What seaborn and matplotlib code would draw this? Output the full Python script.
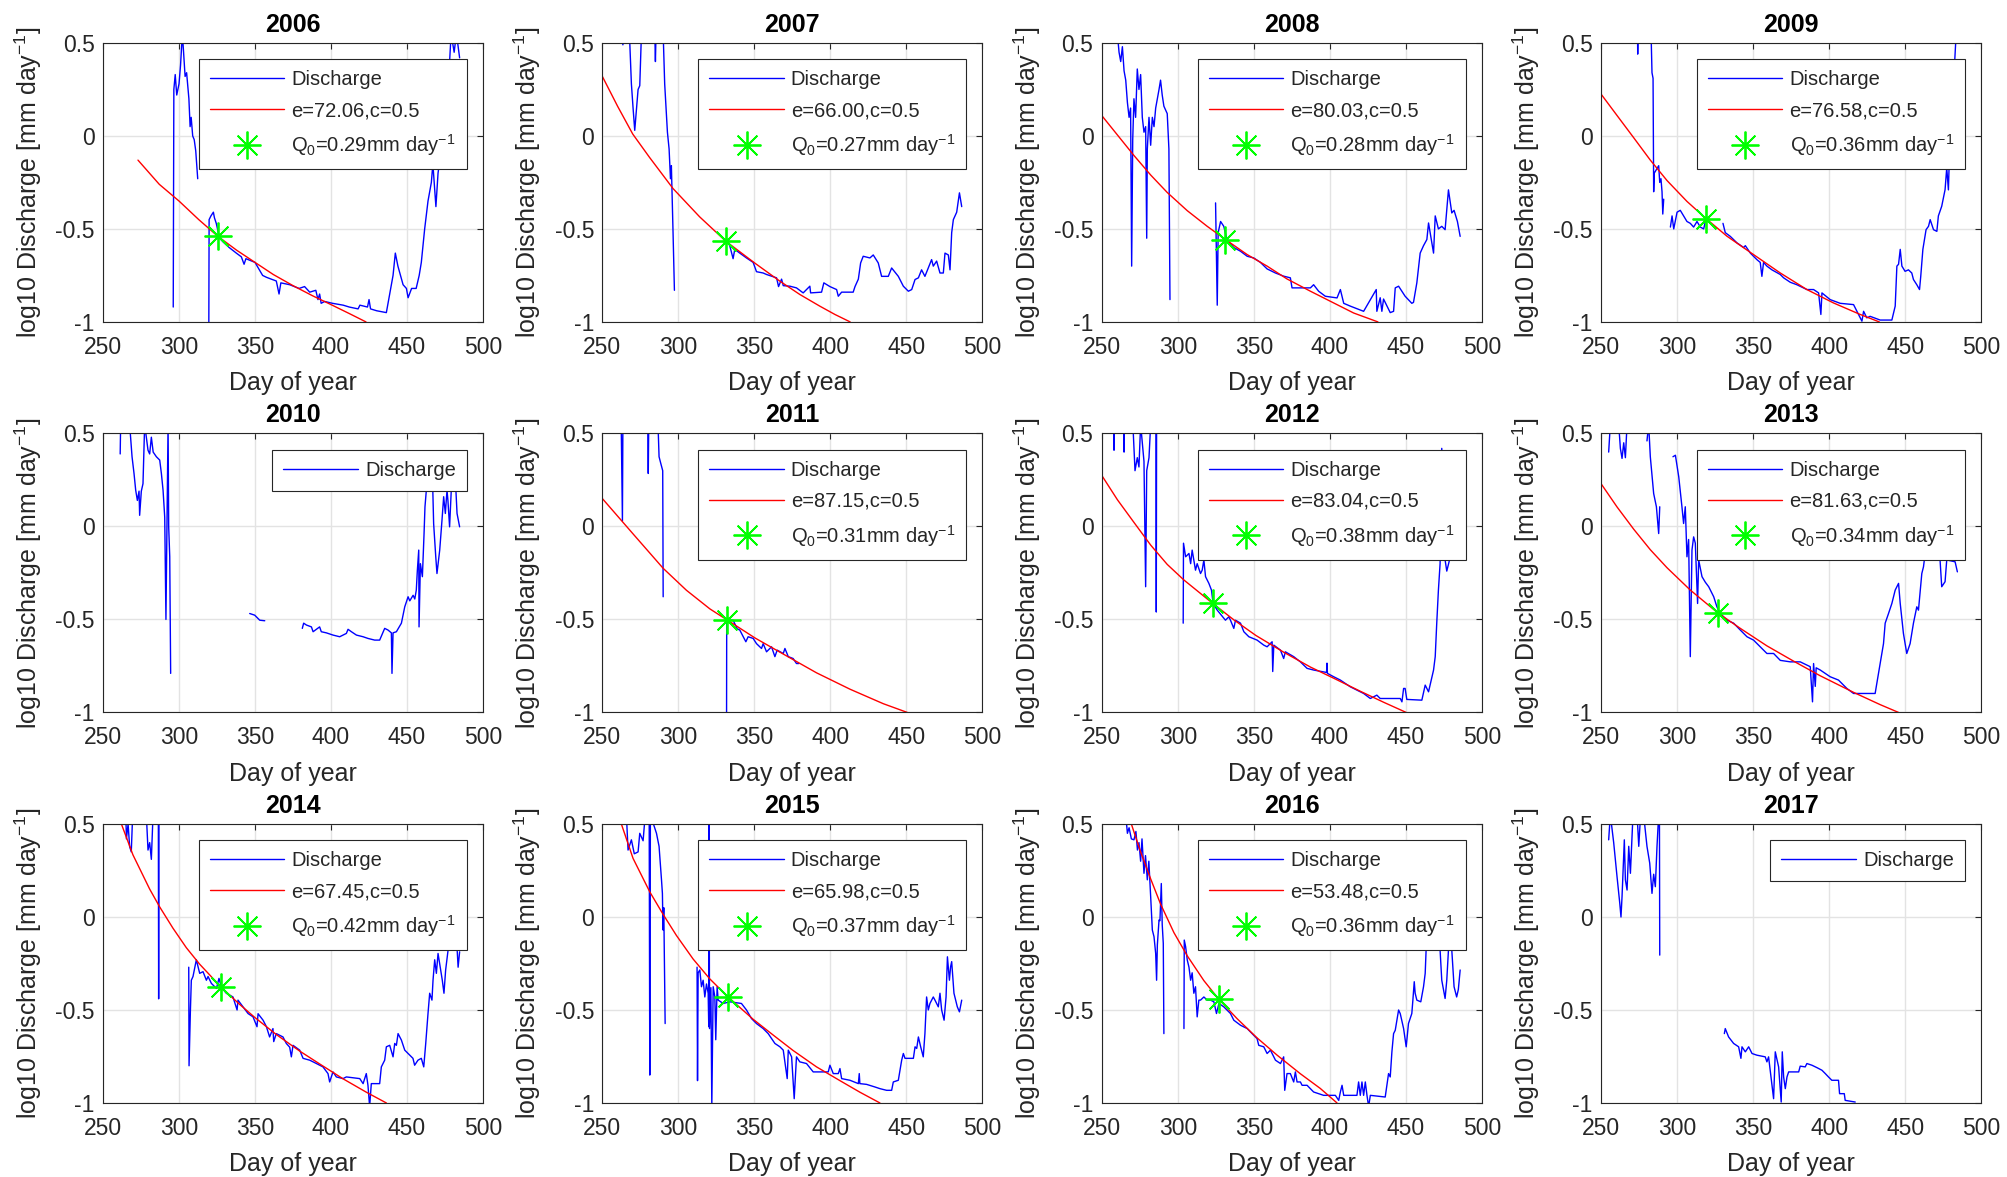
import numpy as np
import pandas as pd
import matplotlib
matplotlib.use('Agg')
import matplotlib.pyplot as plt
from matplotlib.lines import Line2D
import seaborn as sns

years = ['2006', '2007', '2008', '2009', '2010', '2011',
         '2012', '2013', '2014', '2015', '2016', '2017']

xticks = [250, 300, 350, 400, 450, 500]
yticks = [-1, -0.5, 0, 0.5]
ytick_labels = ['-1', '-0.5', '0', '0.5']

# discharge: (day of year, log10 Q); None = gap in record
dis_2006 = [(296.2, -0.92), (296.6, 0.25), (297.5, 0.33), (298.5, 0.22), (300.0, 0.28), (301.0, 0.38),
            (302.2, 0.55), (303.0, 0.45), (304.0, 0.32), (305.0, 0.34), (306.5, 0.20), (307.3, 0.05),
            (308.0, 0.10), (309.0, 0.0), (310.0, -0.02), (311.0, -0.08), (312.3, -0.23), None,
            (319.6, -1.05), (319.8, -0.45), (321.0, -0.43), (322.6, -0.41), (323.3, -0.44), (324.5, -0.47),
            (326.7, -0.55), (329.0, -0.57), (333.0, -0.60), (337.7, -0.63), (341.0, -0.65), (342.8, -0.69),
            (344.0, -0.66), (347.0, -0.67), (350.0, -0.68), (355.0, -0.75), (357.5, -0.76), (360.7, -0.77),
            (364.0, -0.78), (365.8, -0.85), (367.0, -0.79), (372.8, -0.80), (379.0, -0.82), (382.6, -0.81),
            (386.0, -0.84), (390.0, -0.83), (391.4, -0.88), (392.5, -0.85), (393.5, -0.90), (395.8, -0.89),
            (401.0, -0.90), (408.0, -0.91), (412.0, -0.92), (417.8, -0.93), (419.0, -0.91), (424.0, -0.92),
            (425.0, -0.88), (426.0, -0.93), (430.0, -0.94), (436.4, -0.95), (437.5, -0.90), (438.6, -0.85),
            (440.8, -0.75), (442.3, -0.63), (444.0, -0.70), (447.4, -0.80), (449.6, -0.82), (450.7, -0.87),
            (453.0, -0.82), (456.0, -0.82), (458.0, -0.75), (459.4, -0.68), (461.6, -0.50), (463.8, -0.35),
            (466.0, -0.25), (467.0, -0.15), (469.0, -0.38), (470.4, -0.20), (472.0, -0.10), (473.7, 0.0),
            (477.0, 0.20), (478.0, 0.40), (479.0, 0.55), (481.0, 0.45), (482.5, 0.55), (484.6, 0.42)]

dis_2007 = [(262.5, 0.55), (263.5, 0.49), (264.5, 0.55), None,
            (267.8, 0.55), (269.1, 0.28), (270.2, 0.15), (271.3, 0.03), (272.4, 0.14), (273.5, 0.25),
            (274.6, 0.27), (275.7, 0.55), (284.5, 0.55), (284.9, 0.40), (285.3, 0.55), (290.0, 0.55),
            (291.0, 0.28), (292.8, 0.02), (293.9, -0.07), (294.8, -0.23), (295.4, -0.16), (296.5, -0.52),
            (297.4, -0.83), None,
            (331.6, -0.56), (333.8, -0.59), (336.0, -0.66), (337.1, -0.61), (340.4, -0.63), (344.8, -0.656),
            (349.2, -0.68), (351.4, -0.73), (355.8, -0.737), (358.0, -0.745), (364.6, -0.763), (365.9, -0.81),
            (367.9, -0.77), (369.0, -0.805), (373.4, -0.808), (377.7, -0.817), (382.1, -0.844), (386.5, -0.808),
            (387.0, -0.844), (394.2, -0.84), (395.7, -0.79), (399.7, -0.81), (404.1, -0.826), (405.2, -0.862),
            (407.4, -0.84), (415.0, -0.84), (416.2, -0.81), (418.4, -0.77), (419.9, -0.683), (421.6, -0.647),
            (426.0, -0.656), (428.2, -0.64), (431.5, -0.683), (433.7, -0.755), (438.1, -0.755), (440.3, -0.71),
            (444.7, -0.755), (448.0, -0.808), (451.3, -0.835), (453.5, -0.826), (455.7, -0.772), (457.9, -0.763),
            (460.0, -0.72), (462.2, -0.755), (466.6, -0.665), (467.7, -0.70), (469.9, -0.673), (472.1, -0.737),
            (474.3, -0.737), (475.4, -0.63), (477.6, -0.64), (478.7, -0.72), (479.8, -0.52), (480.9, -0.45),
            (483.1, -0.41), (484.9, -0.306), (486.4, -0.38)]

dis_2008 = [(260.3, 0.55), (261.4, 0.45), (262.5, 0.40), (263.6, 0.48), (264.7, 0.35), (265.8, 0.30),
            (266.9, 0.18), (268.0, 0.10), (269.0, 0.15), (269.7, -0.70), (270.4, -0.02), (271.2, 0.20),
            (272.3, 0.10), (273.4, 0.36), (274.5, 0.25), (275.6, 0.33), (276.7, 0.10), (277.8, 0.02),
            (278.9, 0.05), (279.6, -0.55), (280.0, -0.07), (281.1, 0.10), (282.2, -0.05), (283.3, 0.10),
            (284.4, 0.05), (285.5, 0.15), (286.6, 0.20), (287.7, 0.25), (288.7, 0.30), (289.8, 0.22),
            (290.9, 0.16), (293.1, 0.12), (294.2, -0.07), (294.9, -0.88), None,
            (324.9, -0.36), (326.0, -0.91), (326.6, -0.52), (328.2, -0.46), (330.3, -0.486), (332.5, -0.56),
            (336.9, -0.60), (341.3, -0.62), (345.7, -0.647), (350.0, -0.656), (354.4, -0.68), (358.8, -0.715),
            (364.3, -0.737), (369.7, -0.754), (374.1, -0.763), (375.2, -0.817), (387.3, -0.817), (389.4, -0.80),
            (392.7, -0.835), (397.1, -0.862), (404.8, -0.871), (407.0, -0.826), (409.2, -0.90), (413.5, -0.915),
            (422.3, -0.943), (430.6, -0.826), (431.0, -0.943), (433.2, -0.87), (434.3, -0.943), (435.4, -0.877),
            (439.8, -0.95), (442.0, -0.943), (443.1, -0.817), (445.3, -0.808), (449.6, -0.862), (454.0, -0.90),
            (455.1, -0.895), (457.3, -0.79), (459.5, -0.63), (461.7, -0.59), (463.9, -0.557), (465.0, -0.468),
            (468.3, -0.63), (469.4, -0.43), (471.5, -0.50), (473.7, -0.486), (475.9, -0.504), (478.1, -0.29),
            (480.3, -0.414), (481.8, -0.40), (484.0, -0.46), (485.8, -0.54)]

dis_2009 = [(274.0, 0.55), (274.1, 0.44), (274.3, 0.55), None,
            (282.9, 0.55), (283.5, 0.34), (284.2, 0.31), (284.6, -0.30), (285.0, -0.20), (287.9, -0.16),
            (288.6, -0.25), (289.4, -0.23), (290.1, -0.30), (290.6, -0.42), (291.2, -0.34), None,
            (295.6, -0.49), (296.7, -0.43), (297.8, -0.50), (300.0, -0.41), (302.1, -0.40), (304.3, -0.43),
            (306.5, -0.46), (308.7, -0.47), (310.9, -0.49), (313.1, -0.46), (315.3, -0.49), (317.5, -0.50),
            (318.6, -0.46), (319.7, -0.45), None,
            (330.2, -0.47), (331.7, -0.52), (335.0, -0.54), (339.4, -0.575), (343.8, -0.60), (344.9, -0.59),
            (348.2, -0.63), (352.5, -0.665), (354.7, -0.68), (355.8, -0.755), (356.9, -0.68), (359.1, -0.70),
            (362.4, -0.72), (367.9, -0.745), (370.1, -0.763), (374.5, -0.787), (378.8, -0.80), (385.4, -0.826),
            (389.8, -0.826), (393.1, -0.844), (394.6, -0.96), (395.3, -0.844), (400.7, -0.88), (407.3, -0.90),
            (416.1, -0.907), (421.6, -0.996), (422.7, -0.943), (424.8, -0.978), (427.0, -0.97), (433.6, -0.99),
            (441.3, -0.99), (443.5, -0.915), (444.6, -0.70), (445.7, -0.69), (446.8, -0.61), (447.9, -0.70),
            (450.0, -0.728), (452.2, -0.72), (454.4, -0.737), (455.5, -0.772), (457.7, -0.80), (459.5, -0.826),
            (460.3, -0.755), (461.7, -0.61), (463.8, -0.504), (465.4, -0.486), (466.5, -0.45), (468.7, -0.504),
            (470.9, -0.513), (471.9, -0.43), (474.1, -0.378), (476.3, -0.289), (477.4, -0.172), (478.5, -0.29),
            (479.6, 0.016), (481.4, 0.195), (482.3, 0.35), (483.6, 0.55)]

dis_2010 = [(261.3, 0.39), (261.6, 0.55), (267.5, 0.55), (269.1, 0.375), (270.4, 0.285), (271.5, 0.195),
            (272.6, 0.14), (273.7, 0.19), (274.1, 0.06), (275.2, 0.19), (276.3, 0.23), (277.4, 0.55),
            (279.6, 0.41), (280.7, 0.39), (281.8, 0.48), (283.0, 0.40), (285.1, 0.375), (287.3, 0.357),
            (288.4, 0.285), (289.5, 0.195), (290.6, 0.05), (291.4, -0.50), (292.1, 0.025), (292.8, 0.55),
            (293.2, 0.0), (293.9, -0.163), (294.5, -0.79), None,
            (346.5, -0.468), (349.8, -0.477), (353.1, -0.504), (356.4, -0.507), None,
            (381.1, -0.548), (382.0, -0.52), (383.8, -0.53), (387.1, -0.54), (388.2, -0.566), (392.5, -0.54),
            (393.6, -0.566), (396.9, -0.572), (401.3, -0.584), (405.7, -0.593), (410.1, -0.575), (411.2, -0.553),
            (413.4, -0.566), (416.7, -0.584), (421.1, -0.593), (424.3, -0.602), (428.7, -0.611), (432.0, -0.611),
            (435.3, -0.548), (437.5, -0.557), (439.7, -0.572), (440.1, -0.79), (440.8, -0.572), (443.0, -0.566),
            (446.3, -0.52), (448.5, -0.432), (450.7, -0.378), (451.8, -0.40), (454.0, -0.37), (455.1, -0.39),
            (456.1, -0.342), (456.8, -0.235), (457.7, -0.127), (457.9, -0.54), (458.8, -0.20), (460.1, -0.27),
            (461.2, -0.038), (461.8, 0.105), (462.7, 0.195), (463.5, 0.30), (465.0, 0.33), (466.7, 0.28),
            (467.5, 0.016), (468.9, -0.163), (469.7, -0.253), (471.5, -0.127), (473.0, 0.034), (474.1, 0.16),
            (475.2, 0.07), (476.3, 0.195), (476.9, 0.14), (478.0, -0.002), (479.1, 0.195), (480.7, 0.25),
            (481.3, 0.30), (482.0, 0.22), (482.9, 0.07), (484.6, -0.002)]

dis_2011 = [(262.4, 0.55), (263.2, 0.03), (263.5, 0.55), None,
            (279.9, 0.55), (280.2, 0.285), (280.5, 0.55), None,
            (286.6, 0.55), (287.3, 0.375), (288.4, 0.34), (289.7, 0.30), (290.0, -0.378), None,
            (331.7, -1.05), (331.8, -0.504), (336.0, -0.504), (338.7, -0.55), (340.4, -0.557), (344.4, -0.62),
            (345.9, -0.593), (349.2, -0.602), (351.4, -0.63), (354.7, -0.656), (355.8, -0.63), (358.0, -0.674),
            (361.3, -0.647), (363.5, -0.70), (365.0, -0.665), (369.0, -0.683), (370.1, -0.656), (372.3, -0.70),
            (375.5, -0.71), (377.7, -0.737), (379.3, -0.737)]

dis_2012 = [(257.9, 0.55), (258.1, 0.41), (258.3, 0.55), None,
            (264.5, 0.55), (264.7, 0.40), (264.9, 0.55), None,
            (270.5, 0.55), (271.9, 0.30), (273.4, 0.37), (274.5, 0.32), (275.6, 0.55), (277.8, 0.35),
            (278.9, -0.324), (279.6, 0.30), (281.1, 0.37), (282.2, 0.55), (285.7, 0.55), (285.9, -0.46),
            (286.1, 0.55), None,
            (303.6, -0.52), (303.8, -0.09), (305.2, -0.163), (307.4, -0.145), (308.5, -0.20), (309.5, -0.127),
            (311.7, -0.235), (312.8, -0.20), (315.0, -0.253), (316.1, -0.235), (317.2, -0.18), (318.3, -0.27),
            (320.5, -0.306), (322.2, -0.342), (323.3, -0.414), (326.0, -0.45), (331.4, -0.504), (333.6, -0.486),
            (334.7, -0.504), (336.9, -0.548), (338.0, -0.504), (341.3, -0.52), (343.5, -0.566), (346.8, -0.593),
            (352.2, -0.611), (356.6, -0.638), (358.8, -0.647), (362.1, -0.62), (362.5, -0.78), (363.2, -0.638),
            (367.6, -0.665), (369.7, -0.71), (370.8, -0.674), (376.3, -0.70), (380.7, -0.728), (385.1, -0.763),
            (389.4, -0.772), (397.9, -0.785), (398.2, -0.735), (398.5, -0.79), (402.6, -0.808), (407.0, -0.826),
            (413.5, -0.862), (417.9, -0.88), (422.3, -0.898), (426.7, -0.925), (431.0, -0.907), (433.2, -0.925),
            (446.4, -0.925), (447.5, -0.943), (448.6, -0.871), (449.6, -0.871), (450.7, -0.93), (460.6, -0.934),
            (462.8, -0.853), (465.0, -0.889), (468.3, -0.772), (469.4, -0.70), (470.4, -0.52), (471.5, -0.342),
            (472.6, -0.20), (473.7, 0.42), (475.9, -0.18), (477.0, -0.24), (478.8, -0.18)]

dis_2013 = [(255.0, 0.40), (256.1, 0.55), (261.6, 0.55), (262.7, 0.42), (263.8, 0.366), (264.9, 0.45),
            (266.0, 0.37), (267.1, 0.55), None,
            (280.2, 0.46), (281.3, 0.55), (282.4, 0.375), (284.6, 0.177), (286.4, 0.106), (287.9, -0.038),
            (288.6, 0.106), None,
            (297.3, 0.375), (298.9, 0.383), (301.1, 0.267), (303.2, 0.106), (304.3, 0.016), (305.4, 0.106),
            (306.5, -0.163), (307.6, -0.07), (308.7, -0.70), (309.8, -0.127), (310.9, -0.056), (312.0, -0.09),
            (313.5, -0.414), (314.2, -0.18), (316.4, -0.27), (318.6, -0.30), (320.8, -0.324), (324.1, -0.378),
            (326.2, -0.432), (328.4, -0.468), (332.8, -0.504), (337.2, -0.52), (341.6, -0.557), (346.0, -0.593),
            (350.3, -0.611), (354.7, -0.647), (359.1, -0.683), (363.5, -0.683), (367.9, -0.72), (374.5, -0.728),
            (381.0, -0.728), (387.6, -0.754), (389.1, -0.943), (389.8, -0.737), (390.9, -0.86), (391.5, -0.76),
            (394.2, -0.772), (400.7, -0.808), (406.2, -0.826), (408.4, -0.844), (411.7, -0.871), (416.1, -0.898),
            (430.3, -0.898), (431.4, -0.844), (433.6, -0.737), (435.8, -0.63), (436.9, -0.52), (439.1, -0.468),
            (441.3, -0.414), (443.5, -0.342), (445.7, -0.306), (446.8, -0.414), (448.9, -0.575), (451.1, -0.683),
            (453.3, -0.63), (455.5, -0.52), (457.7, -0.432), (458.8, -0.45), (461.0, -0.253), (462.1, -0.217),
            (463.2, -0.145), (466.0, 0.0), (470.0, -0.05), (473.0, -0.18), (474.1, -0.324), (476.3, -0.297),
            (477.4, -0.18), (482.9, -0.19), (484.4, -0.244)]

dis_2014 = [(265.0, 0.55), (265.4, 0.42), (266.5, 0.50), (267.5, 0.38), (268.6, 0.35), (269.5, 0.55), None,
            (278.5, 0.55), (279.6, 0.36), (280.7, 0.40), (281.8, 0.31), (282.9, 0.55), None,
            (286.4, 0.55), (286.6, -0.44), (286.8, 0.55), None,
            (306.4, -0.27), (306.6, -0.80), (307.5, -0.50), (308.1, -0.34), (309.2, -0.32), (311.4, -0.23),
            (313.6, -0.303), (315.8, -0.294), (318.0, -0.34), (319.1, -0.32), (321.3, -0.357), (324.6, -0.384),
            (326.3, -0.33), (328.0, -0.38), (331.1, -0.41), (335.5, -0.43), (338.2, -0.50), (338.8, -0.447),
            (342.1, -0.483), (345.4, -0.519), (348.7, -0.537), (351.3, -0.59), (352.0, -0.52), (355.3, -0.555),
            (357.5, -0.59), (359.6, -0.645), (361.8, -0.60), (362.3, -0.67), (364.0, -0.627), (368.4, -0.645),
            (370.6, -0.68), (372.8, -0.70), (373.9, -0.752), (375.0, -0.69), (379.4, -0.716), (381.6, -0.76),
            (386.0, -0.77), (390.4, -0.788), (394.7, -0.806), (398.0, -0.842), (399.1, -0.887), (401.3, -0.833),
            (403.5, -0.86), (407.9, -0.869), (410.1, -0.86), (418.9, -0.869), (421.1, -0.896), (423.2, -0.842),
            (424.3, -0.905), (425.4, -1.02), (426.5, -0.896), (432.0, -0.896), (433.1, -0.806), (435.3, -0.77),
            (436.4, -0.698), (438.6, -0.69), (440.8, -0.752), (441.9, -0.68), (443.0, -0.69), (444.1, -0.627),
            (446.3, -0.662), (448.5, -0.716), (450.7, -0.734), (453.9, -0.76), (455.0, -0.797), (457.2, -0.77),
            (459.4, -0.76), (461.0, -0.806), (462.3, -0.68), (463.8, -0.519), (464.9, -0.41), (466.4, -0.447),
            (467.1, -0.34), (468.2, -0.23), (469.3, -0.303), (470.4, -0.196), (473.2, -0.34), (474.3, -0.41),
            (475.4, -0.285), (477.0, -0.178), (480.0, -0.10), (483.0, -0.18), (483.6, -0.27), (484.6, -0.187)]

dis_2015 = [(265.8, 0.55), (266.9, 0.36), (269.1, 0.415), (271.0, 0.34), (273.5, 0.35), (274.6, 0.45),
            (276.8, 0.41), (277.9, 0.52), (279.0, 0.55), (280.8, 0.55), (281.2, -0.85), (281.6, 0.55),
            (285.6, 0.45), (287.3, 0.38), (288.9, 0.20), (289.5, 0.127), (289.9, -0.07), (290.4, 0.05),
            (291.3, -0.573), None,
            (312.3, -0.27), (312.6, -0.88), (313.0, -0.30), (314.1, -0.285), (315.2, -0.375), (316.3, -0.34),
            (317.4, -0.43), (318.5, -0.36), (319.6, -0.41), (320.0, -0.59), (320.2, 0.55), (320.5, -0.60),
            (321.4, -0.38), (322.0, -1.02), (322.9, -0.375), (324.0, -0.43), (324.6, -0.66), (325.5, -0.375),
            (326.2, -0.447), (329.5, -0.465), (333.8, -0.456), (341.5, -0.465), (344.8, -0.50), (348.1, -0.546),
            (351.4, -0.573), (355.8, -0.60), (359.1, -0.627), (363.5, -0.68), (366.8, -0.698), (369.0, -0.716),
            (371.6, -0.869), (372.3, -0.716), (374.5, -0.752), (376.2, -0.977), (377.7, -0.752), (379.9, -0.779),
            (384.3, -0.788), (388.7, -0.833), (398.6, -0.833), (399.7, -0.797), (401.9, -0.842), (405.2, -0.842),
            (406.3, -0.815), (407.4, -0.869), (412.9, -0.878), (418.4, -0.896), (419.0, -0.842), (419.4, -0.896),
            (423.8, -0.90), (429.3, -0.914), (432.6, -0.923), (437.0, -0.932), (440.3, -0.932), (441.4, -0.887),
            (444.7, -0.878), (445.8, -0.824), (446.9, -0.77), (448.0, -0.734), (449.1, -0.76), (454.6, -0.76),
            (455.7, -0.698), (456.8, -0.707), (457.9, -0.645), (459.4, -0.698), (461.1, -0.752), (462.2, -0.627),
            (463.3, -0.43), (464.4, -0.50), (465.5, -0.465), (467.7, -0.43), (468.8, -0.447), (471.0, -0.483),
            (472.1, -0.41), (473.2, -0.50), (474.8, -0.555), (476.1, -0.43), (477.0, -0.214), (478.3, -0.34),
            (479.1, -0.267), (479.8, -0.24), (481.3, -0.41), (483.5, -0.483), (484.9, -0.51), (486.4, -0.447)]

dis_2016 = [(265.8, 0.55), (266.9, 0.45), (268.0, 0.48), (269.5, 0.42), (271.2, 0.415), (272.5, 0.46),
            (273.5, 0.36), (274.5, 0.40), (275.6, 0.30), (276.5, 0.42), (277.8, 0.235), (278.8, 0.33),
            (280.0, 0.20), (281.0, 0.30), (282.2, 0.11), (283.3, -0.07), (284.4, -0.106), (285.5, -0.196),
            (286.1, -0.34), (286.6, -0.15), (287.7, -0.016), (288.3, -0.02), (289.2, 0.18), (289.8, -0.04),
            (290.5, -0.142), (290.9, -0.627), None,
            (304.1, -0.60), (304.3, -0.124), (305.2, -0.16), (306.3, -0.232), (307.4, -0.27), (308.5, -0.34),
            (309.5, -0.30), (310.6, -0.41), (311.7, -0.375), (312.8, -0.537), (313.9, -0.447), (315.0, -0.447),
            (317.2, -0.43), (319.4, -0.447), (321.6, -0.447), (323.8, -0.456), (325.5, -0.519), (327.1, -0.465),
            (330.3, -0.483), (334.7, -0.519), (336.9, -0.555), (341.3, -0.582), (345.7, -0.60), (350.0, -0.636),
            (352.2, -0.654), (353.3, -0.69), (356.6, -0.698), (358.8, -0.734), (361.0, -0.716), (364.3, -0.77),
            (367.6, -0.788), (369.7, -0.752), (370.4, -0.932), (371.9, -0.842), (374.1, -0.842), (376.3, -0.887),
            (377.4, -0.833), (378.5, -0.887), (380.7, -0.887), (381.8, -0.905), (385.1, -0.905), (389.4, -0.941),
            (396.0, -0.959), (403.7, -0.959), (405.9, -0.986), (407.0, -0.941), (408.1, -0.905), (409.2, -0.959),
            (417.9, -0.959), (419.0, -0.887), (420.1, -0.959), (421.2, -0.887), (422.3, -0.959), (423.4, -0.887),
            (424.5, -0.959), (425.6, -1.02), (426.7, -0.959), (436.5, -0.968), (438.7, -0.842), (439.8, -0.86),
            (440.9, -0.725), (442.0, -0.627), (443.1, -0.609), (445.3, -0.50), (446.4, -0.52), (448.6, -0.60),
            (450.3, -0.698), (451.8, -0.573), (454.0, -0.519), (454.7, -0.447), (455.6, -0.348), (456.2, -0.41),
            (457.3, -0.447), (459.9, -0.456), (461.7, -0.375), (462.8, -0.303), (463.4, -0.178), (466.0, -0.05),
            (470.0, -0.10), (472.6, -0.178), (473.7, -0.34), (475.9, -0.438), (477.0, -0.34), (478.1, -0.178),
            (480.3, -0.178), (481.8, -0.375), (483.5, -0.43), (484.6, -0.39), (485.8, -0.285)]

dis_2017 = [(255.0, 0.415), (256.1, 0.55), (258.3, 0.40), (260.5, 0.217), (262.3, 0.074), (263.1, 0.0),
            (263.8, 0.11), (265.3, 0.415), (266.0, 0.20), (267.1, 0.145), (268.2, 0.38), (269.3, 0.235),
            (271.0, 0.55), (273.7, 0.55), (274.8, 0.38), (276.0, 0.55), (278.0, 0.55), (280.2, 0.38),
            (282.0, 0.29), (283.5, 0.127), (284.6, 0.23), (285.7, 0.163), (286.8, 0.38), (287.9, 0.55),
            (288.4, 0.55), (288.6, -0.205), None,
            (331.1, -0.627), (331.7, -0.60), (333.9, -0.645), (337.2, -0.68), (340.5, -0.698), (342.0, -0.76),
            (342.7, -0.698), (344.9, -0.725), (347.1, -0.698), (349.3, -0.734), (352.5, -0.743), (358.0, -0.752),
            (359.1, -0.779), (360.2, -0.752), (363.5, -0.977), (364.6, -0.725), (366.8, -0.806), (368.5, -0.995),
            (369.2, -0.725), (370.1, -0.86), (371.2, -0.923), (372.3, -0.86), (373.4, -0.833), (380.0, -0.833),
            (381.0, -0.802), (384.3, -0.806), (385.4, -0.788), (388.7, -0.797), (392.0, -0.81), (395.3, -0.824),
            (397.5, -0.842), (399.6, -0.86), (401.8, -0.878), (406.2, -0.878), (406.9, -0.95), (410.0, -0.95),
            (410.6, -0.986), (417.2, -0.995)]

# fitted recession curves
fit_2006 = [(273.0, -0.13), (287.0, -0.26), (300.0, -0.35), (313.0, -0.45), (325.6, -0.54), (338.0, -0.615),
            (350.0, -0.68), (362.0, -0.745), (375.0, -0.805), (388.0, -0.86), (400.0, -0.907), (412.0, -0.955),
            (423.0, -1.0)]
fit_2007 = [(250.0, 0.32), (260.0, 0.16), (270.0, 0.01), (281.0, -0.115), (296.5, -0.283), (314.0, -0.435),
            (331.2, -0.566), (350.5, -0.685), (366.8, -0.781), (380.0, -0.853), (393.0, -0.915), (403.0, -0.96),
            (413.0, -1.0)]
fit_2008 = [(250.0, 0.11), (271.2, -0.105), (282.2, -0.21), (293.1, -0.304), (306.3, -0.402), (319.4, -0.486),
            (331.4, -0.557), (345.7, -0.638), (358.8, -0.70), (371.9, -0.769), (387.3, -0.835), (400.4, -0.889),
            (415.7, -0.952), (431.7, -1.0)]
fit_2009 = [(250.0, 0.225), (260.5, 0.11), (271.5, -0.01), (282.4, -0.13), (293.4, -0.24), (306.5, -0.352),
            (319.0, -0.444), (332.8, -0.539), (350.3, -0.638), (367.9, -0.737), (385.4, -0.826), (402.9, -0.898),
            (420.5, -0.96), (433.0, -1.0)]
fit_2011 = [(250.0, 0.15), (270.2, -0.04), (290.0, -0.225), (305.3, -0.343), (320.7, -0.443), (332.3, -0.504),
            (350.5, -0.60), (369.0, -0.686), (390.9, -0.787), (412.9, -0.875), (434.8, -0.953), (450.6, -1.0)]
fit_2012 = [(250.0, 0.275), (260.3, 0.144), (271.2, 0.022), (282.2, -0.10), (293.1, -0.204), (304.1, -0.288),
            (323.1, -0.414), (336.9, -0.502), (351.4, -0.586), (369.7, -0.676), (387.3, -0.756), (402.6, -0.816),
            (420.1, -0.886), (435.4, -0.945), (450.3, -1.0)]
fit_2013 = [(250.0, 0.23), (260.5, 0.105), (271.5, -0.015), (282.4, -0.125), (293.4, -0.222), (308.7, -0.342),
            (326.7, -0.464), (341.6, -0.548), (359.1, -0.642), (376.6, -0.724), (394.2, -0.803), (416.1, -0.892),
            (433.6, -0.958), (445.7, -1.0)]
fit_2014 = [(262.1, 0.50), (269.7, 0.334), (280.7, 0.15), (287.3, 0.054), (296.0, -0.06), (304.8, -0.165),
            (313.6, -0.254), (327.9, -0.379), (339.9, -0.47), (350.0, -0.541), (364.0, -0.632), (379.4, -0.721),
            (392.5, -0.79), (407.9, -0.87), (423.2, -0.942), (436.4, -1.0)]
fit_2015 = [(262.5, 0.50), (270.2, 0.315), (281.2, 0.135), (289.9, 0.015), (298.7, -0.099), (309.7, -0.226),
            (320.7, -0.333), (332.7, -0.43), (349.2, -0.55), (362.4, -0.635), (375.5, -0.718), (390.9, -0.806),
            (406.3, -0.88), (419.4, -0.942), (432.6, -1.0)]
fit_2016 = [(269.5, 0.50), (275.6, 0.35), (282.2, 0.205), (288.7, 0.07), (297.5, -0.084), (306.3, -0.209),
            (317.2, -0.342), (327.1, -0.443), (339.1, -0.547), (352.2, -0.65), (365.4, -0.743), (380.7, -0.843),
            (393.8, -0.922), (404.8, -1.0)]

discharge = [dis_2006, dis_2007, dis_2008, dis_2009, dis_2010, dis_2011,
             dis_2012, dis_2013, dis_2014, dis_2015, dis_2016, dis_2017]
fits = [fit_2006, fit_2007, fit_2008, fit_2009, None, fit_2011,
        fit_2012, fit_2013, fit_2014, fit_2015, fit_2016, None]

# start of the recession (Q0) and fit parameters from the legends
q0_day = [325.6, 331.2, 331.4, 319.0, None, 332.3, 323.1, 326.7, 327.9, 332.7, 327.1, None]
q0_log = [-0.54, -0.566, -0.557, -0.444, None, -0.504, -0.414, -0.464, -0.379, -0.43, -0.443, None]
e_vals = ['72.06', '66.00', '80.03', '76.58', None, '87.15', '83.04', '81.63', '67.45', '65.98', '53.48', None]
q0_mm = ['0.29', '0.27', '0.28', '0.36', None, '0.31', '0.38', '0.34', '0.42', '0.37', '0.36', None]
c_val = '0.5'


def to_frame(points):
    rows = []
    seg = 0
    for p in points:
        if p is None:
            seg += 1
            continue
        rows.append((p[0], p[1], seg))
    return pd.DataFrame(rows, columns=['day', 'q', 'seg'])


dark = '#262626'
sns.set_theme(style='white', rc={
    'axes.edgecolor': dark,
    'axes.linewidth': 0.8,
    'axes.labelcolor': dark,
    'xtick.color': dark,
    'ytick.color': dark,
    'grid.color': '#e3e3e3',
    'grid.linewidth': 1.0,
})
plt.rcParams['font.family'] = ['Liberation Sans', 'DejaVu Sans']
plt.rcParams['mathtext.fontset'] = 'custom'
plt.rcParams['mathtext.rm'] = 'Liberation Sans'
plt.rcParams['mathtext.it'] = 'Liberation Sans:italic'
plt.rcParams['mathtext.default'] = 'regular'
plt.rcParams['axes.unicode_minus'] = False

fig, axes = plt.subplots(3, 4, figsize=(20.08, 11.77), dpi=100)
fig.subplots_adjust(left=0.0513, right=0.9866, bottom=0.0629, top=0.9635,
                    wspace=0.314, hspace=0.40)

star = dict(color=(0, 1, 0), marker=(8, 2, 0), linestyle='none', markersize=20, markeredgewidth=1.3)

for i, ax in enumerate(axes.flat):
    ax.set_axisbelow(True)
    ax.grid(True)

    sns.lineplot(data=to_frame(discharge[i]), x='day', y='q', units='seg', estimator=None,
                 sort=False, color=(0, 0, 1), linewidth=1.0, ax=ax, legend=False)
    handles = [Line2D([], [], color=(0, 0, 1), lw=1.0)]
    labels = ['Discharge']

    if fits[i] is not None:
        sns.lineplot(data=to_frame(fits[i]), x='day', y='q', estimator=None, sort=False,
                     color=(1, 0, 0), linewidth=1.0, ax=ax, legend=False)
        ax.plot([q0_day[i]], [q0_log[i]], **star)
        handles += [Line2D([], [], color=(1, 0, 0), lw=1.0), Line2D([], [], **star)]
        labels += ['e=' + e_vals[i] + ',c=' + c_val,
                   r'Q$_0$=' + q0_mm[i] + r'mm day$^{-1}$']

    ax.set_xlim(250, 500)
    ax.set_ylim(-1, 0.5)
    ax.set_xticks(xticks)
    ax.set_yticks(yticks, labels=ytick_labels)
    ax.tick_params(direction='in', length=4, width=0.8, top=True, right=True,
                   labelsize=16.5, labelcolor=dark)
    ax.tick_params(axis='x', pad=10)
    ax.tick_params(axis='y', pad=6)
    for s in ax.spines.values():
        s.set_color(dark)
        s.set_linewidth(0.8)

    ax.set_title(years[i], fontsize=18, fontweight='bold', color='black', pad=8)
    ax.set_xlabel('Day of year', fontsize=18, labelpad=9)
    ax.set_ylabel(r'log10 Discharge [mm day$^{-1}$]', fontsize=18, labelpad=8)

    leg = ax.legend(handles, labels, loc='upper right', fontsize=14.5, frameon=True,
                    fancybox=False, edgecolor=dark, framealpha=1, borderaxespad=0.8,
                    handlelength=3.7, handletextpad=0.35, labelspacing=0.6, borderpad=0.55)
    leg.get_frame().set_linewidth(0.8)

fig.savefig('out.png', dpi=100)
